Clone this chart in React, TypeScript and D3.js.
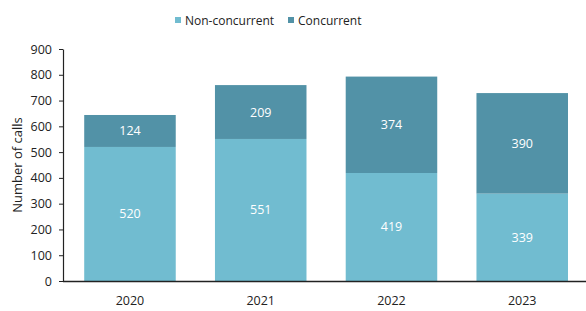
import { useEffect, useRef } from "react";
import * as d3 from "d3";

const years = ["2020", "2021", "2022", "2023"];
const nonConcurrent = [520, 551, 419, 339];
const concurrent = [124, 209, 374, 390];
const yTicks = [0, 100, 200, 300, 400, 500, 600, 700, 800, 900];

const seriesNames = ["Non-concurrent", "Concurrent"];
const seriesColors = ["#71bcd0", "#5292a7"];

export default function App() {
  const svgRef = useRef<SVGSVGElement>(null);

  useEffect(() => {
    const svg = svgRef.current;
    if (!svg) return;
    const sel = d3.select(svg);
    sel.selectAll("*").remove();

    const font = "'Open Sans', 'Noto Sans', sans-serif";
    const axisX = 63;
    const x = d3
      .scaleBand<string>()
      .domain(years)
      .range([64.6, 587.6])
      .paddingInner(0.3)
      .paddingOuter(0.15);
    const y = d3.scaleLinear().domain([0, 900]).range([281, 49]);

    const rows = years.map((yr, i) => ({
      year: yr,
      "Non-concurrent": nonConcurrent[i],
      Concurrent: concurrent[i],
    }));
    const stacked = d3.stack<any>().keys(seriesNames)(rows);

    // bars
    stacked.forEach((layer, li) => {
      const g = sel.append("g");
      g.selectAll("rect")
        .data(layer)
        .enter()
        .append("rect")
        .attr("x", (d: any) => x(d.data.year) || 0)
        .attr("y", (d) => y(d[1]))
        .attr("width", x.bandwidth())
        .attr("height", (d) => y(d[0]) - y(d[1]))
        .attr("fill", seriesColors[li]);
      g.selectAll("text")
        .data(layer)
        .enter()
        .append("text")
        .attr("x", (d: any) => (x(d.data.year) || 0) + x.bandwidth() / 2)
        .attr("y", (d) => (y(d[0]) + y(d[1])) / 2)
        .attr("text-anchor", "middle")
        .attr("dominant-baseline", "central")
        .attr("font-family", font)
        .attr("font-size", 12.5)
        .attr("fill", "#ffffff")
        .text((d) => String(d[1] - d[0]));
    });

    // y axis
    const ya = sel
      .append("g")
      .attr("transform", `translate(${axisX},0)`)
      .call(d3.axisLeft(y).tickValues(yTicks).tickSize(4).tickPadding(7).tickSizeOuter(0));
    ya.select(".domain").attr("stroke", "#222").attr("stroke-width", 1.2);
    ya.selectAll(".tick line").attr("stroke", "#222");
    ya.selectAll(".tick text")
      .attr("font-family", font)
      .attr("font-size", 12.5)
      .attr("fill", "#222");

    // x axis
    const xa = sel
      .append("g")
      .attr("transform", `translate(0,${y(0)})`)
      .call(d3.axisBottom(x).tickSize(0).tickPadding(15));
    xa.select(".domain")
      .attr("d", `M${axisX},0.5H586`)
      .attr("stroke", "#222")
      .attr("stroke-width", 1.4);
    xa.selectAll(".tick text")
      .attr("font-family", font)
      .attr("font-size", 12.5)
      .attr("fill", "#222");

    // y label
    sel
      .append("text")
      .attr("transform", `translate(17,${(y(0) + y(900)) / 2}) rotate(-90)`)
      .attr("text-anchor", "middle")
      .attr("dominant-baseline", "central")
      .attr("font-family", font)
      .attr("font-size", 13)
      .attr("fill", "#222")
      .text("Number of calls");

    // legend
    const legendX = [175, 288];
    seriesNames.forEach((name, i) => {
      const lg = sel.append("g").attr("transform", `translate(${legendX[i]},20)`);
      lg.append("rect")
        .attr("x", 0)
        .attr("y", -3)
        .attr("width", 6)
        .attr("height", 6)
        .attr("fill", seriesColors[i]);
      lg.append("text")
        .attr("x", 10)
        .attr("y", 0)
        .attr("dominant-baseline", "central")
        .attr("font-family", font)
        .attr("font-size", 12)
        .attr("fill", "#222")
        .text(name);
    });
  }, []);

  return (
    <div style={{ position: "absolute", left: 0, top: 0 }}>
      <svg ref={svgRef} width={586} height={311} style={{ display: "block", background: "#fff" }} />
    </div>
  );
}
